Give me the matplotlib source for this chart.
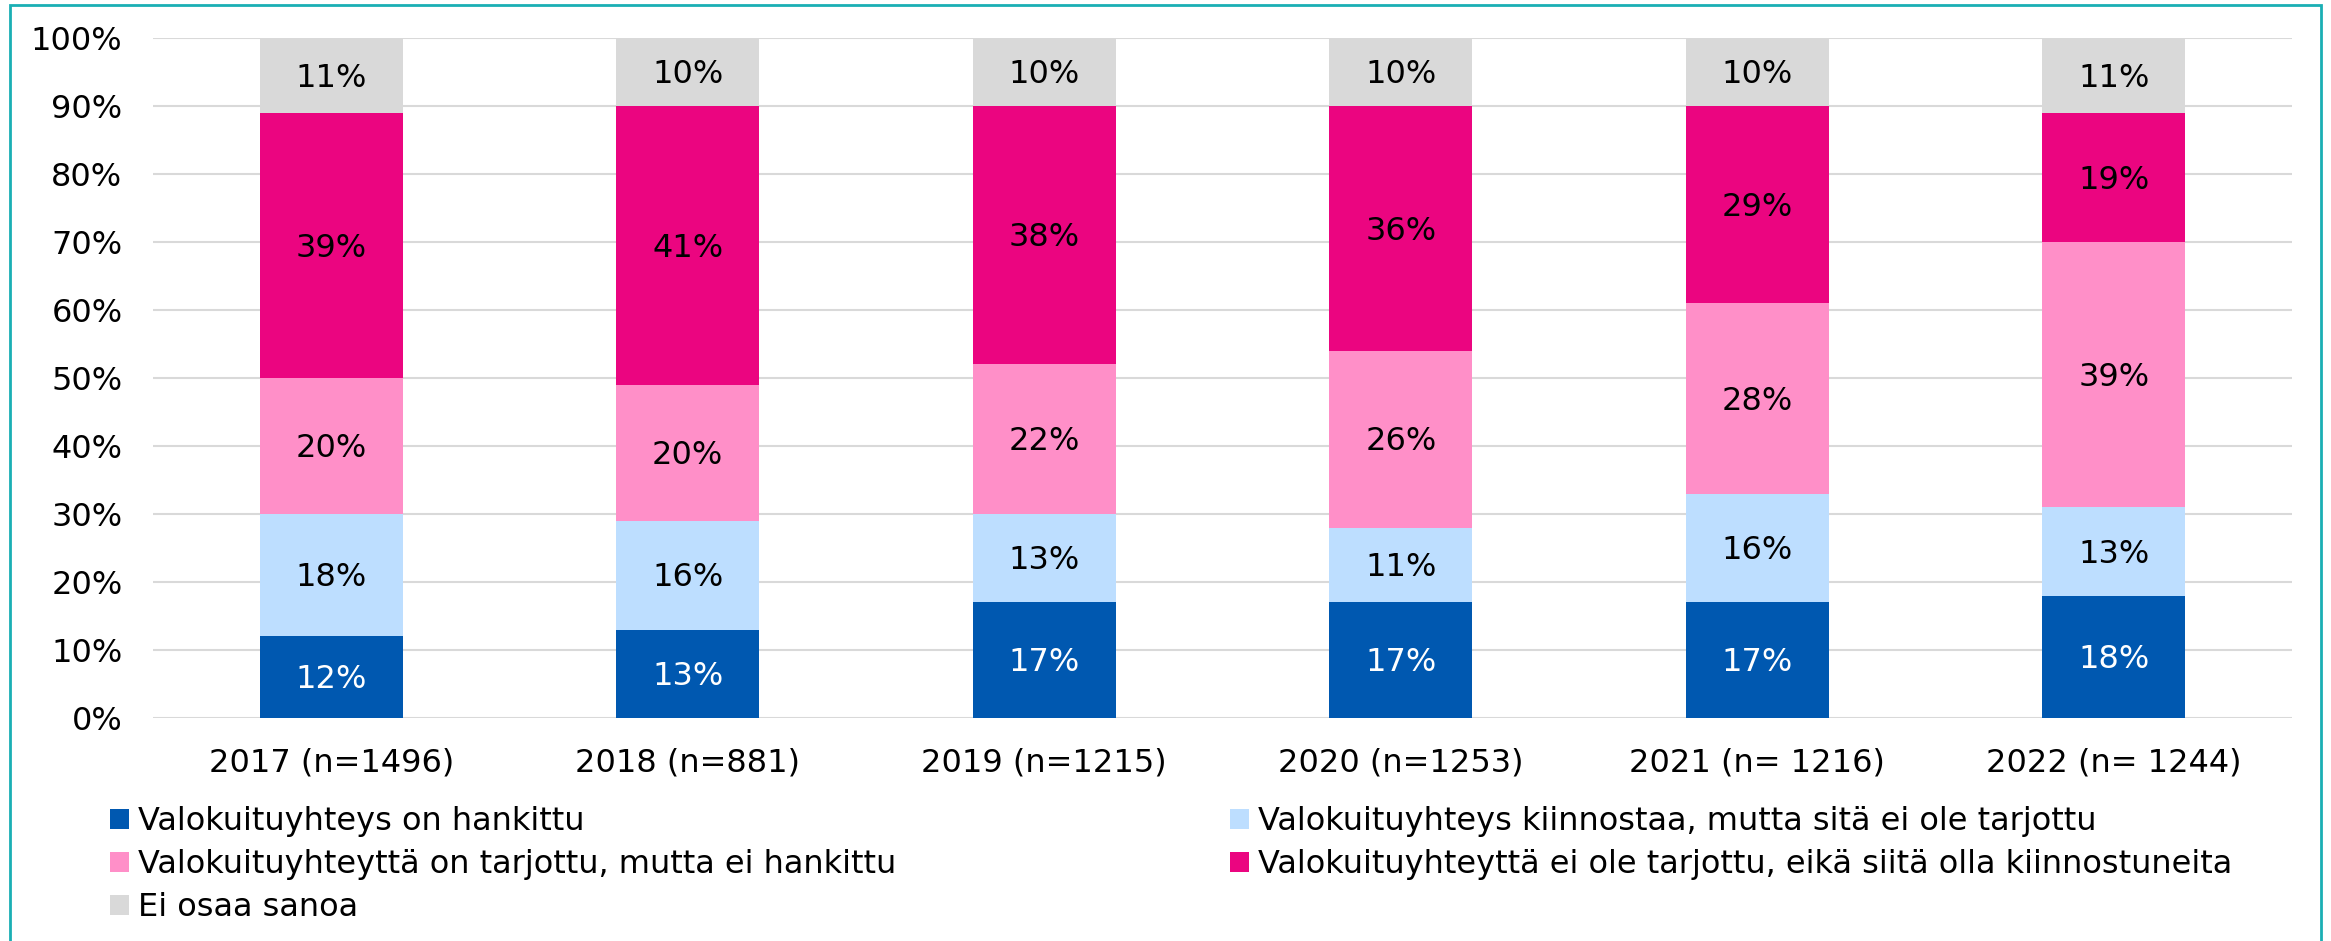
import numpy as np
import matplotlib
matplotlib.use("Agg")
import matplotlib.pyplot as plt
from matplotlib.patches import Rectangle, Patch

# --- data ---
years = ["2017 (n=1496)", "2018 (n=881)", "2019 (n=1215)",
         "2020 (n=1253)", "2021 (n= 1216)", "2022 (n= 1244)"]
hankittu = [12, 13, 17, 17, 17, 18]
kiinnostaa = [18, 16, 13, 11, 16, 13]
tarjottu_ei_hankittu = [20, 20, 22, 26, 28, 39]
ei_tarjottu_ei_kiinn = [39, 41, 38, 36, 29, 19]
ei_osaa = [11, 10, 10, 10, 10, 11]

series_names = [
    "Valokuituyhteys on hankittu",
    "Valokuituyhteys kiinnostaa, mutta sitä ei ole tarjottu",
    "Valokuituyhteyttä on tarjottu, mutta ei hankittu",
    "Valokuituyhteyttä ei ole tarjottu, eikä siitä olla kiinnostuneita",
    "Ei osaa sanoa",
]
series_vals = [hankittu, kiinnostaa, tarjottu_ei_hankittu, ei_tarjottu_ei_kiinn, ei_osaa]
colors = ["#0058B0", "#BDDEFF", "#FF8FC8", "#EB0580", "#D9D9D9"]
label_colors = ["white", "black", "black", "black", "black"]

W, H = 2331, 941
FS = 23
plt.rcParams["font.family"] = ["DejaVu Sans"]
fig = plt.figure(figsize=(W / 100, H / 100), dpi=100)
ax = fig.add_axes([153 / W, 1 - 718 / H, (2292 - 153) / W, (718 - 38) / H])

x = np.arange(len(years))
bottom = np.zeros(len(years))
for name, vals, c, lc in zip(series_names, series_vals, colors, label_colors):
    vals = np.array(vals, dtype=float)
    ax.bar(x, vals, 0.4, bottom=bottom, color=c, label=name, zorder=3)
    for xi, b, v in zip(x, bottom, vals):
        ax.text(xi, b + v / 2 - 0.4, f"{int(v)}%", ha="center", va="center",
                fontsize=FS, color=lc, zorder=4)
    bottom += vals

ax.set_xlim(-0.5, len(years) - 0.5)
ax.set_ylim(0, 100)
ax.set_yticks(np.arange(0, 101, 10))
ax.set_yticklabels([f"{v}%" for v in range(0, 101, 10)], fontsize=FS)
ax.set_xticks(x)
ax.set_xticklabels(years, fontsize=FS)
ax.tick_params(axis="y", length=0, pad=22)
ax.tick_params(axis="x", length=0, pad=21)
ax.grid(axis="y", color="#D9D9D9", linewidth=1.5, zorder=0)
for s in ax.spines.values():
    s.set_visible(False)

# legend: two columns placed separately
handles = [Patch(facecolor=c, edgecolor="none") for c in colors]
leg_kw = dict(frameon=False, fontsize=FS, handlelength=0.58, handleheight=0.58,
              handletextpad=0.3, labelspacing=0.38, borderaxespad=0, borderpad=0)
leg1 = fig.legend([handles[0], handles[2], handles[4]],
                  [series_names[0], series_names[2], series_names[4]],
                  loc="upper left", bbox_to_anchor=(110 / W, 1 - 806 / H), **leg_kw)
leg2 = fig.legend([handles[1], handles[3]],
                  [series_names[1], series_names[3]],
                  loc="upper left", bbox_to_anchor=(1230 / W, 1 - 806 / H), **leg_kw)

# outer teal frame
fig.add_artist(Rectangle((10 / W, -0.05), (2321 - 10) / W, (H - 5) / H + 0.05,
                         transform=fig.transFigure, fill=False,
                         edgecolor="#1AAFB4", linewidth=2))

fig.savefig("out.png", dpi=100)
